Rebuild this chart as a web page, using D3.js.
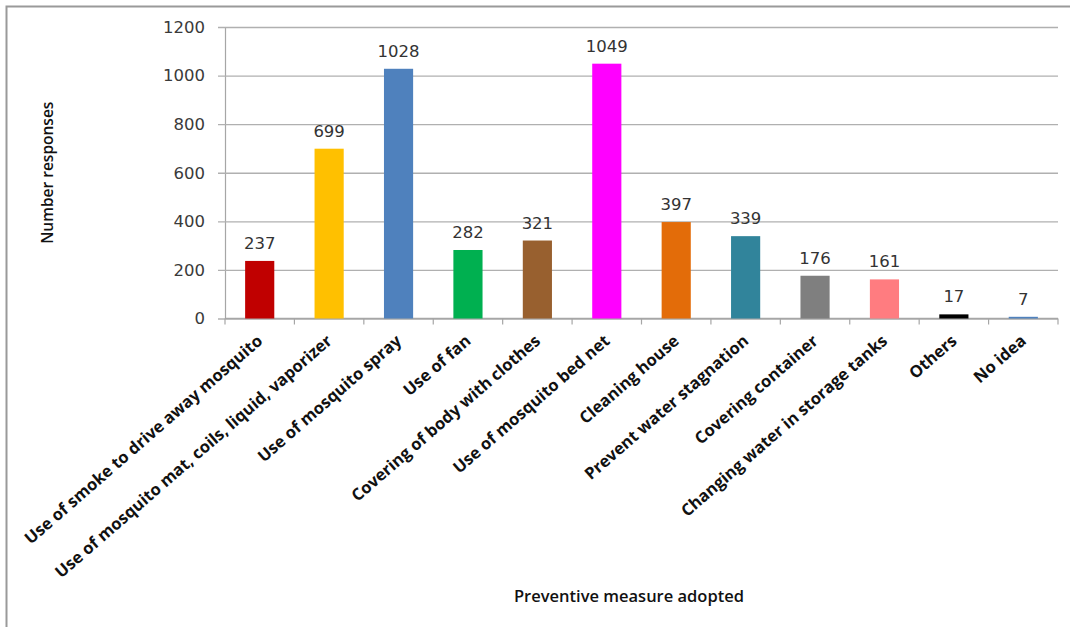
<!DOCTYPE html>
<html>
<head>
<meta charset="utf-8">
<script src="https://cdn.jsdelivr.net/npm/d3@7"></script>
<style>
  html, body { margin: 0; padding: 0; background: #fff; }
  svg { display: block; }
</style>
</head>
<body>
<svg id="chart" width="1070" height="627"></svg>
<script>
// Preventive measures adopted against mosquitoes and number of responses
const categories = [
  "Use of smoke to drive away mosquito",
  "Use of mosquito mat, coils, liquid, vaporizer",
  "Use of mosquito spray",
  "Use of fan",
  "Covering of body with clothes",
  "Use of mosquito bed net",
  "Cleaning house",
  "Prevent water stagnation",
  "Covering container",
  "Changing water in storage tanks",
  "Others",
  "No idea"
];
const responses = [237, 699, 1028, 282, 321, 1049, 397, 339, 176, 161, 17, 7];
const barColors = [
  "#C00000", "#FFC000", "#4F81BD", "#00B050", "#98602F", "#FF00FF",
  "#E36C09", "#31849B", "#7F7F7F", "#FF7C80", "#000000", "#4F81BD"
];
const yTicks = [0, 200, 400, 600, 800, 1000, 1200];
const yTitle = "Number responses";
const xTitle = "Preventive measure adopted";

const svg = d3.select("#chart");

// outer frame
svg.append("rect")
  .attr("x", 6.5).attr("y", 6.5)
  .attr("width", 1100).attr("height", 700)
  .attr("fill", "none")
  .attr("stroke", "#9a9a9a")
  .attr("stroke-width", 2);

const plot = { left: 225, right: 1058, top: 27, bottom: 318.5 };

const x = d3.scaleBand()
  .domain(categories)
  .range([plot.left, plot.right])
  .padding(0);

const y = d3.scaleLinear()
  .domain([0, 1200])
  .range([plot.bottom, plot.top]);

// horizontal gridlines with short outer ticks
const yAxis = d3.axisLeft(y)
  .tickValues(yTicks)
  .tickSize(-(plot.right - plot.left))
  .tickSizeOuter(0)
  .tickPadding(20)
  .tickFormat(d3.format("d"));

const gy = svg.append("g")
  .attr("transform", `translate(${plot.left},0)`)
  .call(yAxis);
gy.select(".domain").attr("stroke", "#a6a6a6").attr("stroke-width", 1.2);
gy.selectAll(".tick line")
  .attr("stroke", "#b0b0b0")
  .attr("stroke-width", 1.4)
  .attr("x1", -7);
gy.selectAll(".tick text")
  .attr("font-family", "DejaVu Sans, sans-serif")
  .attr("font-size", 16.5)
  .attr("fill", "#3a3a3a");

// category axis with tick marks at band boundaries
const boundaries = categories.map(c => x(c)).concat([plot.right]);
const gx = svg.append("g");
gx.append("line")
  .attr("x1", plot.left).attr("x2", plot.right)
  .attr("y1", plot.bottom).attr("y2", plot.bottom)
  .attr("stroke", "#a6a6a6").attr("stroke-width", 1.4);
gx.selectAll("line.tk")
  .data(boundaries)
  .join("line")
  .attr("class", "tk")
  .attr("x1", d => d).attr("x2", d => d)
  .attr("y1", plot.bottom).attr("y2", plot.bottom + 6)
  .attr("stroke", "#a6a6a6").attr("stroke-width", 1.2);

// bars
const barW = x.bandwidth() * 0.42;
svg.append("g")
  .selectAll("rect")
  .data(categories)
  .join("rect")
  .attr("x", d => x(d) + (x.bandwidth() - barW) / 2)
  .attr("y", (d, i) => y(responses[i]))
  .attr("width", barW)
  .attr("height", (d, i) => y(0) - y(responses[i]))
  .attr("fill", (d, i) => barColors[i]);

// value labels
svg.append("g")
  .selectAll("text")
  .data(categories)
  .join("text")
  .attr("x", d => x(d) + x.bandwidth() / 2)
  .attr("y", (d, i) => y(responses[i]) - 12)
  .attr("text-anchor", "middle")
  .attr("font-family", "DejaVu Sans, sans-serif")
  .attr("font-size", 16.5)
  .attr("fill", "#333")
  .text((d, i) => responses[i]);

// slanted category labels
svg.append("g")
  .selectAll("text")
  .data(categories)
  .join("text")
  .attr("transform", d => `translate(${x(d) + x.bandwidth() / 2 + 4},${plot.bottom + 24}) rotate(-41)`)
  .attr("text-anchor", "end")
  .attr("font-family", "Open Sans, sans-serif")
  .attr("font-weight", 700)
  .attr("font-size", 16.5)
  .attr("fill", "#111")
  .text(d => d);

// axis titles
svg.append("text")
  .attr("transform", `translate(53,${(plot.top + plot.bottom) / 2}) rotate(-90)`)
  .attr("text-anchor", "middle")
  .attr("font-family", "Open Sans, sans-serif")
  .attr("font-weight", 600)
  .attr("font-size", 15.5)
  .attr("fill", "#111")
  .text(yTitle);

svg.append("text")
  .attr("x", 629)
  .attr("y", 602)
  .attr("text-anchor", "middle")
  .attr("font-family", "Open Sans, sans-serif")
  .attr("font-weight", 600)
  .attr("font-size", 16.5)
  .attr("fill", "#111")
  .text(xTitle);
</script>
</body>
</html>
